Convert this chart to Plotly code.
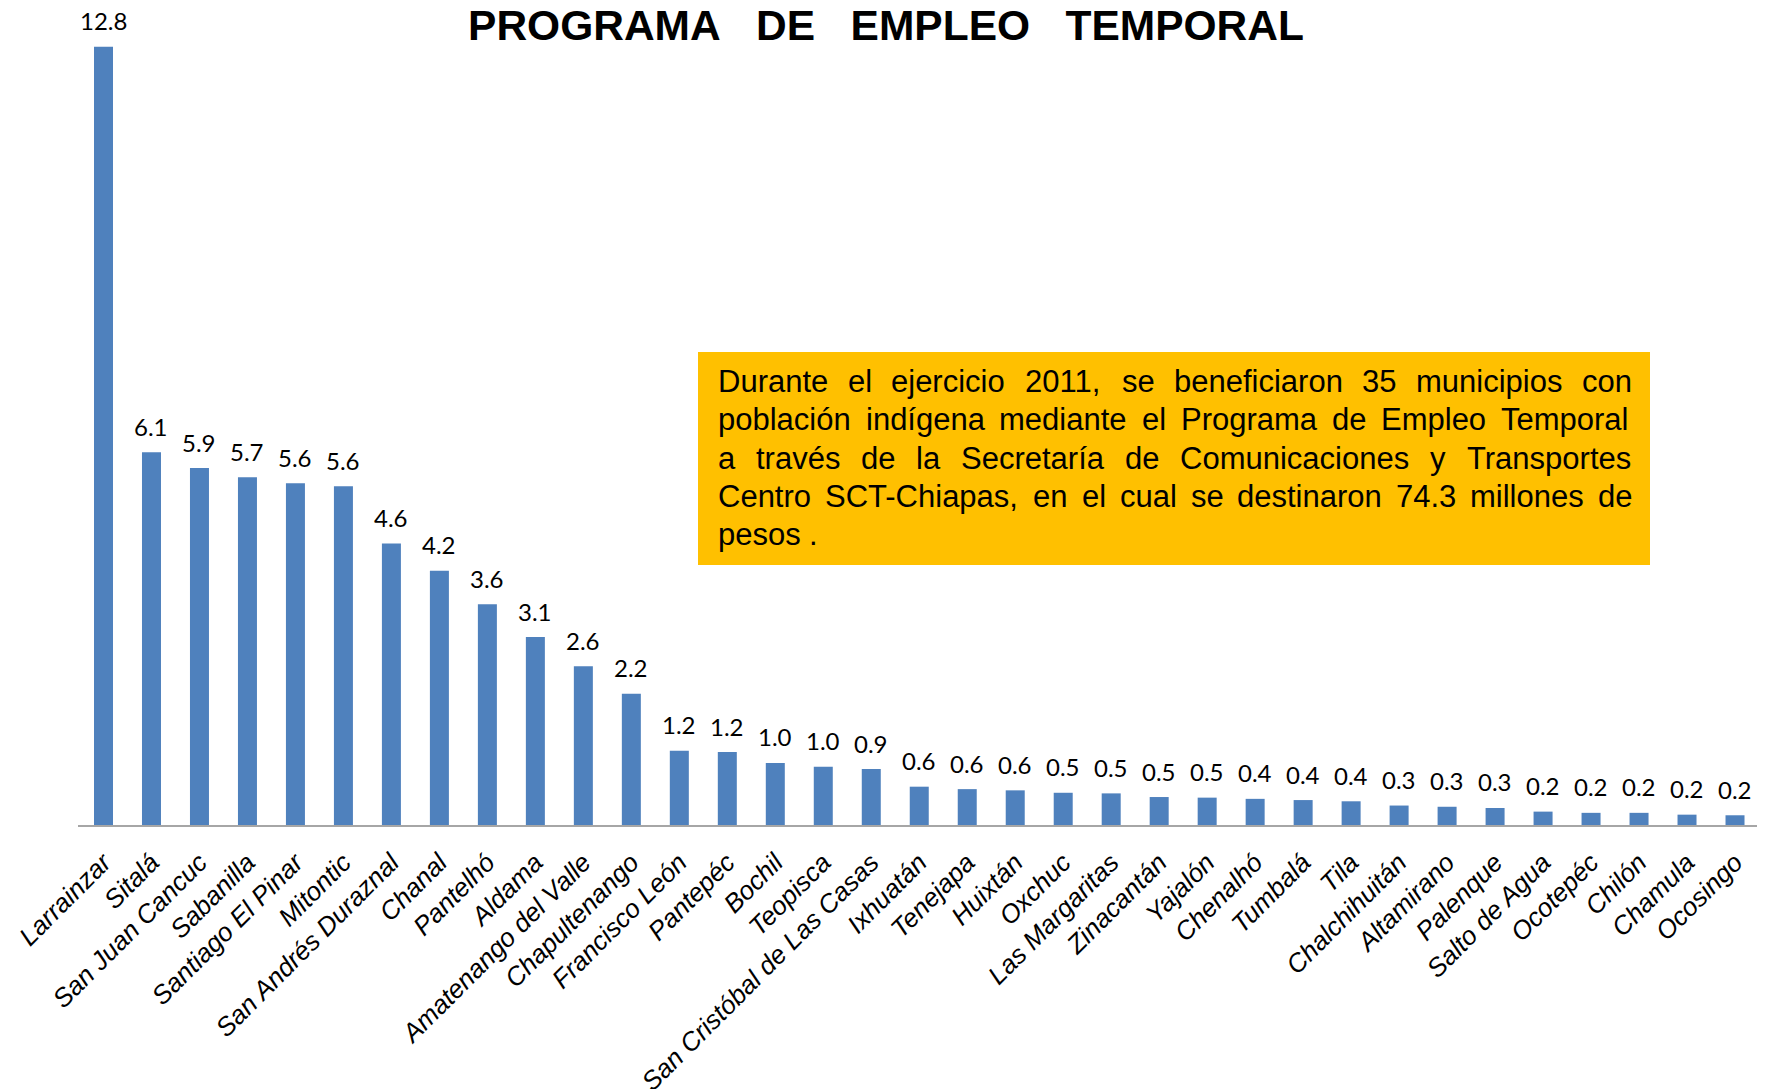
import plotly.graph_objects as go

# Municipios y monto (millones de pesos)
municipios = ["Larrainzar", "Sitalá", "San Juan Cancuc", "Sabanilla", "Santiago El Pinar",
              "Mitontic", "San Andrés Duraznal", "Chanal", "Pantelhó", "Aldama",
              "Amatenango del Valle", "Chapultenango", "Francisco León", "Pantepéc", "Bochil",
              "Teopisca", "San Cristóbal de Las Casas", "Ixhuatán", "Tenejapa", "Huixtán",
              "Oxchuc", "Las Margaritas", "Zinacantán", "Yajalón", "Chenalhó",
              "Tumbalá", "Tila", "Chalchihuitán", "Altamirano", "Palenque",
              "Salto de Agua", "Ocotepéc", "Chilón", "Chamula", "Ocosingo"]
montos = [12.8, 6.13, 5.87, 5.72, 5.62, 5.57, 4.63, 4.18, 3.63, 3.09,
          2.61, 2.16, 1.22, 1.20, 1.02, 0.96, 0.92, 0.63, 0.59, 0.57,
          0.53, 0.52, 0.46, 0.45, 0.43, 0.41, 0.39, 0.32, 0.30, 0.28,
          0.22, 0.20, 0.20, 0.17, 0.16]

titulo = "PROGRAMA   DE   EMPLEO   TEMPORAL"
nota = ["Durante el ejercicio  2011, se beneficiaron 35 municipios con",
        "población indígena mediante el Programa de Empleo Temporal",
        "a través de la Secretaría de Comunicaciones y Transportes",
        "Centro SCT-Chiapas, en el cual se destinaron 74.3 millones de",
        "pesos ."]

W, H = 1765, 1089
OFF = 8  # margen del body en la página
L, R, T, B = 70, 14, 22, 272
pw, ph = W - L - R, H - T - B


def px_x(x):
    return (x - OFF - L) / pw


def px_y(y):
    return (H - B - (y - OFF)) / ph


# anchos aproximados de Arial (por 1000 em) para justificar el texto
anchos = {" ": 278, ",": 278, ".": 278, "-": 333, "i": 222, "j": 222, "l": 222, "f": 278,
          "t": 278, "í": 278, "r": 333, "c": 500, "k": 500, "s": 500, "v": 500, "x": 500,
          "y": 500, "z": 500, "m": 833, "w": 722, "C": 722, "D": 722, "E": 667, "P": 667,
          "S": 667, "T": 611}


def ancho(txt, size):
    return sum(anchos.get(ch, 556) for ch in txt) * size / 1000


fig = go.Figure()
fig.add_trace(go.Bar(x=municipios, y=montos, marker_color="#4F81BD",
                     marker_line_width=0, showlegend=False))

# etiquetas de valor sobre las barras
for m, v in zip(municipios, montos):
    fig.add_annotation(x=m, y=v, text=f"{v:.1f}", showarrow=False, yanchor="middle",
                       yshift=26, font=dict(family="Lato", size=24, color="black"))

# recuadro con la nota
fig.add_shape(type="rect", xref="paper", yref="paper",
              x0=px_x(698), x1=px_x(1650), y0=px_y(565), y1=px_y(352),
              fillcolor="#FFC000", line_width=0, layer="above")

fs = 31
izq, der = 717, 1631
for i, linea in enumerate(nota):
    yc = 381.5 + i * 38.3
    palabras = linea.split()
    if i == len(nota) - 1:
        huecos = ancho(" ", fs)
    else:
        total = sum(ancho(p, fs) for p in palabras)
        huecos = (der - izq - total) / (len(palabras) - 1)
    x = izq
    for p in palabras:
        fig.add_annotation(x=px_x(x), y=px_y(yc), xref="paper", yref="paper", text=p,
                           showarrow=False, xanchor="left", yanchor="middle", borderpad=0,
                           font=dict(family="Liberation Sans, Arial", size=fs, color="black"))
        x += ancho(p, fs) + huecos

fig.update_layout(
    width=W, height=H,
    margin=dict(l=L, r=R, t=T, b=B),
    plot_bgcolor="white", paper_bgcolor="white",
    bargap=0.604,
    title=dict(text=titulo.replace(" ", "\u00a0"), x=(886 - OFF) / W, xanchor="center",
               y=1 - 17 / H, yanchor="middle",
               font=dict(family="Liberation Sans, Arial", size=42.5, color="black", weight="bold")),
)
fig.update_xaxes(showline=True, linecolor="#A6A6A6", linewidth=2, tickangle=-45,
                 ticks="", ticklabelstandoff=10, showgrid=False, automargin=False,
                 tickfont=dict(family="Liberation Sans, Arial", size=26, color="black",
                               style="italic"))
fig.update_yaxes(range=[0, 12.8 * ph / 778.3], visible=False, showgrid=False, automargin=False)

fig.write_html("out.html")
